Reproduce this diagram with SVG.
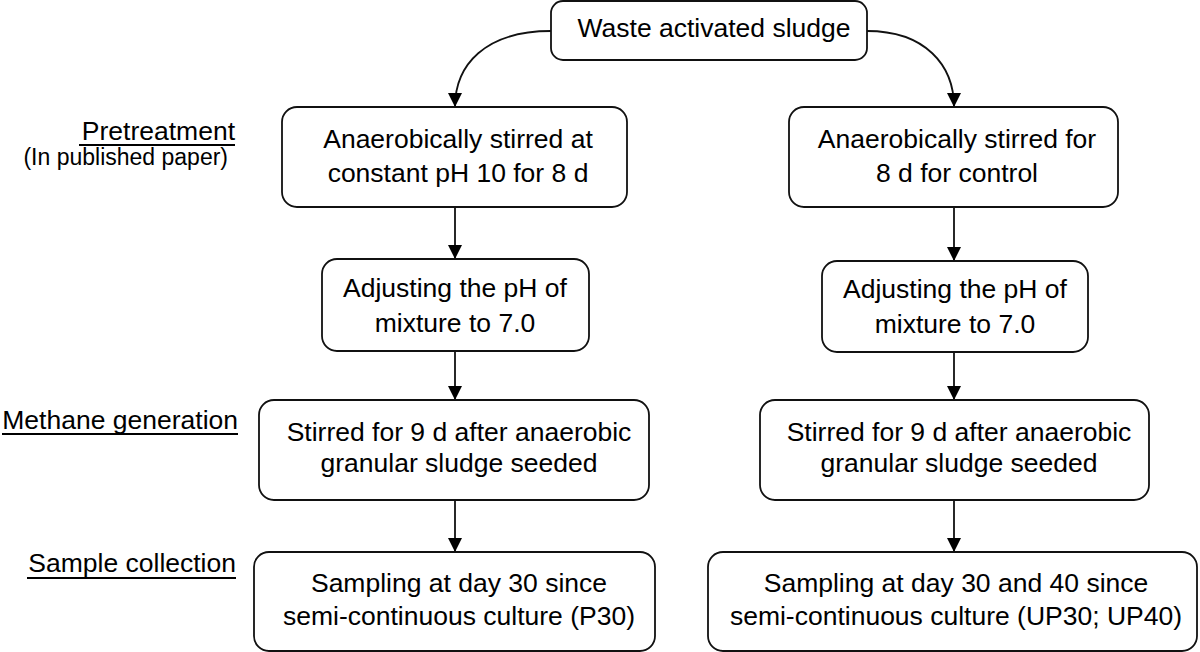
<svg xmlns="http://www.w3.org/2000/svg" width="1200" height="652" viewBox="0 0 1200 652">
<style>
.box{fill:#fff;stroke:#111;stroke-width:1.8}
.t{font-family:"Liberation Sans",Arial,sans-serif;font-size:26.5px;fill:#000;text-anchor:middle}
.lab{font-family:"Liberation Sans",Arial,sans-serif;font-size:26.5px;fill:#000;text-anchor:end}
.small{font-size:23px}
.ul{stroke:#000;stroke-width:1.8}
.c{fill:none;stroke:#111;stroke-width:1.8}
</style>
<defs>
<marker id="ah" markerUnits="userSpaceOnUse" markerWidth="14" markerHeight="16" refX="14" refY="7" orient="auto" viewBox="0 0 14 14">
<path d="M0,0 L14,7 L0,14 Z" fill="#000"/>
</marker>
</defs>
<rect width="1200" height="652" fill="#fff"/>
<g id="labels">
<text class="lab" x="235" y="140">Pretreatment</text>
<line class="ul" x1="79" y1="145" x2="235" y2="145"/>
<text class="lab small" x="228" y="165">(In published paper)</text>
<text class="lab" x="238" y="429">Methane generation</text>
<line class="ul" x1="2" y1="434" x2="238" y2="434"/>
<text class="lab" x="236" y="572">Sample collection</text>
<line class="ul" x1="27" y1="578" x2="236" y2="578"/>
</g>
<g id="connectors">
<path class="c" d="M551,31 C485,31 455,65 455,107" marker-end="url(#ah)"/>
<path class="c" d="M867,31 C925,31 954,65 954,107" marker-end="url(#ah)"/>
<line class="c" x1="455" y1="207" x2="455" y2="259" marker-end="url(#ah)"/>
<line class="c" x1="455" y1="351" x2="455" y2="400" marker-end="url(#ah)"/>
<line class="c" x1="455" y1="500" x2="455" y2="552" marker-end="url(#ah)"/>
<line class="c" x1="954" y1="207" x2="954" y2="261" marker-end="url(#ah)"/>
<line class="c" x1="954" y1="352" x2="954" y2="400" marker-end="url(#ah)"/>
<line class="c" x1="954" y1="500" x2="954" y2="552" marker-end="url(#ah)"/>
</g>
<g id="n-top">
<rect class="box" x="551" y="1" width="316" height="59" rx="12"/>
<text class="t" x="714" y="37">Waste activated sludge</text>
</g>
<g id="n-pre-left">
<rect class="box" x="282" y="107" width="345" height="100" rx="15"/>
<text class="t" x="458" y="148">Anaerobically stirred at</text>
<text class="t" x="458" y="182">constant pH 10 for 8 d</text>
</g>
<g id="n-pre-right">
<rect class="box" x="789" y="107" width="329" height="100" rx="15"/>
<text class="t" x="957" y="148">Anaerobically stirred for</text>
<text class="t" x="957" y="182">8 d for control</text>
</g>
<g id="n-adj-left">
<rect class="box" x="322" y="259" width="267" height="92" rx="15"/>
<text class="t" x="455" y="297">Adjusting the pH of</text>
<text class="t" x="455" y="332">mixture to 7.0</text>
</g>
<g id="n-adj-right">
<rect class="box" x="822" y="261" width="266" height="91" rx="15"/>
<text class="t" x="955" y="298">Adjusting the pH of</text>
<text class="t" x="955" y="333">mixture to 7.0</text>
</g>
<g id="n-meth-left">
<rect class="box" x="259" y="400" width="390" height="100" rx="15"/>
<text class="t" x="459" y="441">Stirred for 9 d after anaerobic</text>
<text class="t" x="459" y="472">granular sludge seeded</text>
</g>
<g id="n-meth-right">
<rect class="box" x="760" y="400" width="389" height="100" rx="15"/>
<text class="t" x="959" y="441">Stirred for 9 d after anaerobic</text>
<text class="t" x="959" y="472">granular sludge seeded</text>
</g>
<g id="n-samp-left">
<rect class="box" x="254" y="552" width="401" height="99" rx="15"/>
<text class="t" x="459" y="592">Sampling at day 30 since</text>
<text class="t" x="459" y="625">semi-continuous culture (P30)</text>
</g>
<g id="n-samp-right">
<rect class="box" x="708" y="552" width="489" height="99" rx="15"/>
<text class="t" x="956" y="592">Sampling at day 30 and 40 since</text>
<text class="t" x="956" y="625">semi-continuous culture (UP30; UP40)</text>
</g>
</svg>
